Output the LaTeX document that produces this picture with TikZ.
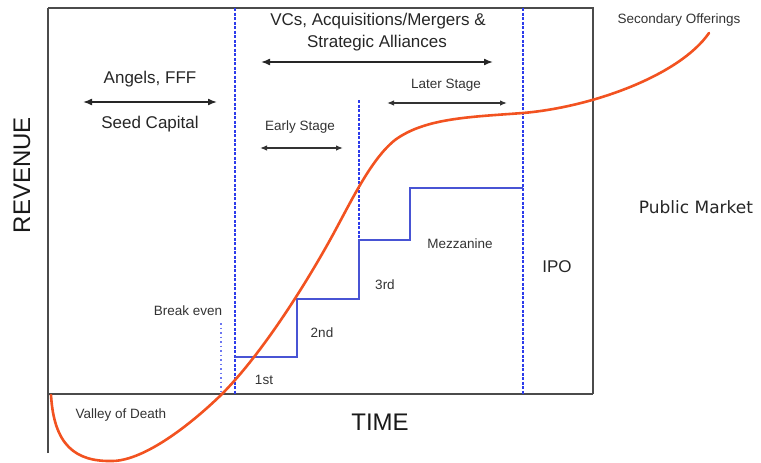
\documentclass[tikz,border=0pt]{standalone}
\usepackage{fontspec}
\setmainfont{Liberation Sans}
\newfontfamily\dejavu{DejaVu Sans}
\usetikzlibrary{arrows.meta, calc, positioning}

\definecolor{curveorange}{RGB}{242,82,32}
\definecolor{stageblue}{RGB}{72,84,212}
\definecolor{dividerblue}{RGB}{45,60,235}
\definecolor{framegrey}{RGB}{75,75,75}

\begin{document}
\begin{tikzpicture}[x=1pt, y=-1pt, >={Latex[length=9pt,width=7pt]}, thick]
    % Define styles locally
    \tikzstyle{big} = [font=\fontsize{17}{20}\selectfont, text=black!85, inner sep=0pt]
    \tikzstyle{small} = [font=\fontsize{13.5}{16}\selectfont, text=black!80, inner sep=0pt]
    \tikzstyle{axislabel} = [font=\fontsize{24}{28}\selectfont, text=black!90, inner sep=0pt]
    \tikzstyle{divider} = [draw=dividerblue, line width=1.2pt, dash pattern=on 3pt off 1.5pt]
    \tikzstyle{span} = [<->, line width=1.6pt, black!85]
    \tikzstyle{shortspan} = [{Latex[length=7pt,width=5.5pt]}-{Latex[length=7pt,width=5.5pt]}, line width=1.3pt, black!80]

    \useasboundingbox (0,0) rectangle (761,463);

    % Frame and axes
    \coordinate (TL) at (48,8);
    \coordinate (TR) at (593,8);
    \coordinate (O) at (48,394);
    \coordinate (BR) at (593,394);
    \draw[framegrey, line width=1.4pt] (TL) -- (TR) -- (BR);
    \draw[framegrey, line width=2.6pt] (48,453) -- (TL);
    \draw[framegrey, line width=2.6pt] (O) -- (BR);

    % Stage dividers
    \draw[divider] (235,8) -- (235,394);
    \draw[divider] (523,8) -- (523,394);
    \draw[divider] (359,100) -- (359,240);
    \draw[draw=dividerblue!70, line width=1.2pt, dash pattern=on 1.5pt off 3pt] (221,323) -- (221,394);

    % Funding rounds
    \draw[stageblue, line width=1.4pt] (235,357) -- (297,357) -- (297,299) -- (359,299)
        -- (359,240) -- (410,240) -- (410,188) -- (523,188);

    % Revenue curve
    \draw[curveorange, line width=2.6pt, line cap=round]
        (51,395) .. controls (54,445) and (75,462) .. (113,461)
        .. controls (145,460) and (190,425) .. (221,395)
        .. controls (262,354) and (305,285) .. (330,240)
        .. controls (350,204) and (370,160) .. (395,140)
        .. controls (425,118) and (470,117) .. (523,113)
        .. controls (593,107) and (680,75) .. (709,33);

    % Axis labels
    \node[axislabel, rotate=90] (revenue) at (22,175) {REVENUE};
    \node[axislabel] (time) at (380,422) {TIME};

    % Seed
    \node[big] (angels) at (150,79) {Angels, FFF};
    \node[big] (seed) at (150,124) {Seed Capital};
    \coordinate (seedL) at (83,102);
    \coordinate (seedR) at (217,102);
    \draw[span] (seedL) -- (seedR);

    % VCs
    \node[big] (vcs) at (378,21) {VCs, Acquisitions/Mergers \&};
    \node[big] (alliances) at (377,43) {Strategic Alliances};
    \coordinate (vcL) at (261,62);
    \coordinate (vcR) at (493,62);
    \draw[span] (vcL) -- (vcR);

    % Early and later stage
    \node[small] (early) at (300,127) {Early Stage};
    \coordinate (earlyL) at (260,148);
    \coordinate (earlyR) at (343,148);
    \draw[shortspan] (earlyL) -- (earlyR);
    \node[small] (later) at (446,85) {Later Stage};
    \coordinate (laterL) at (387,103);
    \coordinate (laterR) at (507,103);
    \draw[shortspan] (laterL) -- (laterR);

    % Rounds
    \node[small] (first) at (264,380) {1st};
    \node[small] (second) at (322,333) {2nd};
    \node[small] (third) at (385,285) {3rd};
    \node[small] (mezz) at (460,244) {Mezzanine};
    \node[big] (ipo) at (557,267) {IPO};

    % Other labels
    \node[small] (breakeven) at (188,311) {Break even};
    \node[small] (valley) at (121,415) {Valley of Death};
    \node[small] (secondary) at (679,20) {Secondary Offerings};
    \node[big, font=\dejavu\fontsize{17}{20}\selectfont] (public) at (696,207) {Public Market};

\end{tikzpicture}
\end{document}
